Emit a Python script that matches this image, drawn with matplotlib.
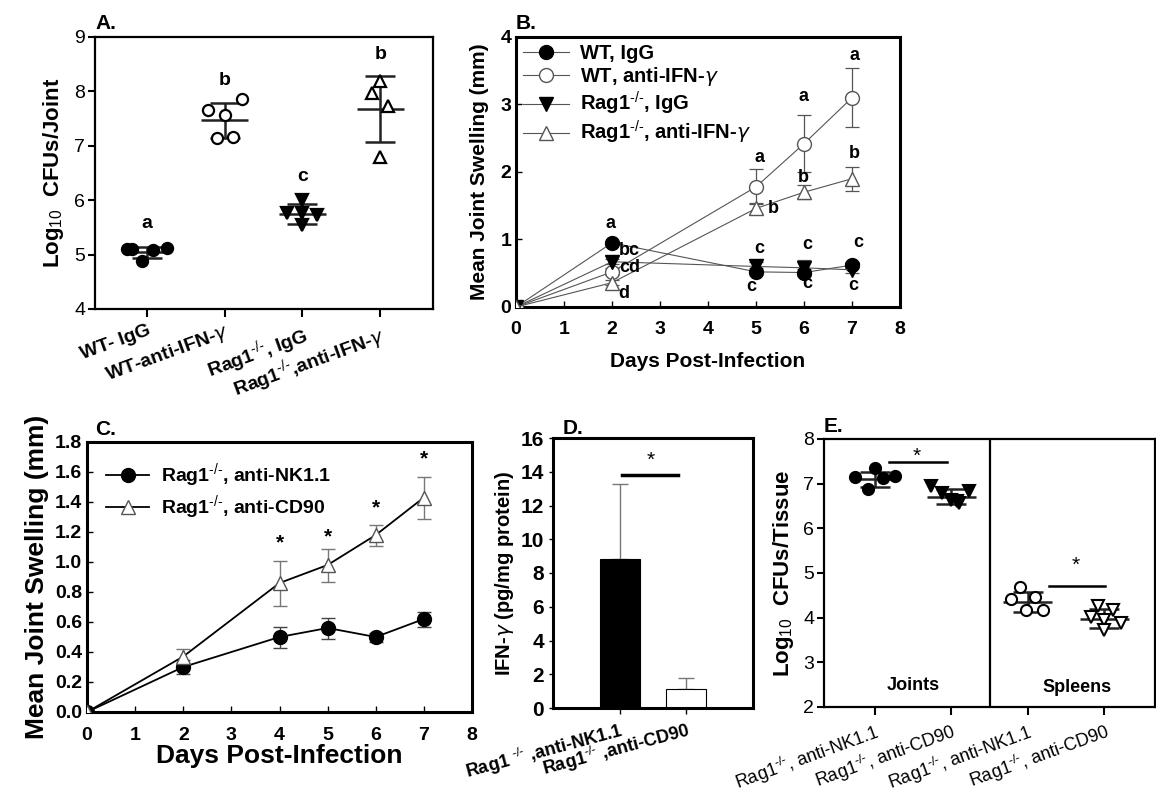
import matplotlib
matplotlib.use("Agg")
import matplotlib.pyplot as plt
import numpy as np

plt.rcParams['font.family'] = ['Liberation Sans', 'DejaVu Sans']
plt.rcParams['mathtext.fontset'] = 'custom'
plt.rcParams['mathtext.rm'] = 'Liberation Sans'
plt.rcParams['mathtext.bf'] = 'Liberation Sans:bold'

KO = "$^{\\text{-/-}}$"

# ---------------- Panel A data ----------------
a_groups = ["WT- IgG", "WT-anti-IFN-$\\gamma$", "Rag1" + KO + ", IgG", "Rag1" + KO + ",anti-IFN-$\\gamma$"]
a_vals = [[5.10, 5.08, 5.12, 4.88, 5.10],
          [7.86, 7.65, 7.56, 7.14, 7.16],
          [6.01, 5.76, 5.73, 5.55, 5.76],
          [8.19, 7.97, 7.73, 6.80]]
a_jit = [[-0.26, 0.08, 0.26, -0.06, -0.2],
         [0.22, -0.22, 0.0, -0.1, 0.1],
         [0.0, -0.2, 0.19, 0.0, 0.0],
         [0.0, -0.1, 0.1, 0.0]]
a_mean = [5.04, 7.47, 5.75, 7.68]
a_sd = [0.10, 0.32, 0.18, 0.61]
a_letters = ["a", "b", "c", "b"]
a_letter_y = [5.57, 8.2, 6.44, 8.67]

# ---------------- Panel B data ----------------
b_days = [0, 2, 5, 6, 7]
b_wt_igg = [0, 0.95, 0.52, 0.51, 0.62]
b_wt_igg_err = [0, 0.03, 0.05, 0.05, 0.04]
b_wt_ifn = [0, 0.52, 1.78, 2.42, 3.10]
b_wt_ifn_err = [0, 0.05, 0.26, 0.42, 0.44]
b_rag_igg = [0, 0.67, 0.60, 0.58, 0.55]
b_rag_igg_err = [0, 0.04, 0.07, 0.11, 0.05]
b_rag_ifn = [0, 0.36, 1.46, 1.70, 1.90]
b_rag_ifn_err = [0, 0.04, 0.08, 0.10, 0.18]
b_labels = ["WT, IgG", "WT, anti-IFN-$\\gamma$", "Rag1" + KO + ", IgG", "Rag1" + KO + ", anti-IFN-$\\gamma$"]
b_letters = [("a", 1.96, 1.24), ("bc", 2.36, 0.83), ("cd", 2.36, 0.59), ("d", 2.24, 0.20),
             ("a", 5.07, 2.22), ("b", 5.36, 1.46), ("c", 5.07, 0.87), ("c", 4.90, 0.31),
             ("a", 5.99, 3.12), ("b", 5.99, 1.92), ("c", 6.06, 0.93), ("c", 6.06, 0.35),
             ("a", 7.05, 3.72), ("b", 7.05, 2.28), ("c", 7.12, 0.96), ("c", 7.02, 0.32)]

# ---------------- Panel C data ----------------
c_days = [0, 2, 4, 5, 6, 7]
c_nk = [0, 0.30, 0.50, 0.56, 0.50, 0.62]
c_nk_err = [0, 0.045, 0.07, 0.07, 0.03, 0.05]
c_cd90 = [0, 0.37, 0.86, 0.98, 1.18, 1.43]
c_cd90_err = [0, 0.05, 0.15, 0.11, 0.07, 0.14]
c_labels = ["Rag1" + KO + ", anti-NK1.1", "Rag1" + KO + ", anti-CD90"]
c_star_days = [4, 5, 6, 7]
c_star_y = [1.13, 1.17, 1.36, 1.69]

# ---------------- Panel D data ----------------
d_labels = ["Rag1 " + KO + " ,anti-NK1.1", "Rag1" + KO + " ,anti-CD90"]
d_vals = [8.85, 1.1]
d_err = [4.45, 0.7]

# ---------------- Panel E data ----------------
e_labels = ["Rag1" + KO + ", anti-NK1.1", "Rag1" + KO + ", anti-CD90",
            "Rag1" + KO + ", anti-NK1.1", "Rag1" + KO + ", anti-CD90"]
e_vals = [[7.15, 7.35, 6.88, 7.12, 7.18],
          [6.95, 6.80, 6.63, 6.56, 6.83, 6.62],
          [4.69, 4.41, 4.47, 4.16, 4.16],
          [4.26, 4.17, 4.02, 3.95, 3.87, 3.72]]
e_jit = [[-0.26, 0.0, -0.09, 0.11, 0.26],
         [-0.26, -0.12, 0.0, 0.1, 0.23, 0.08],
         [-0.1, -0.22, 0.09, -0.02, 0.2],
         [-0.09, 0.11, -0.17, 0.0, 0.22, 0.0]]
e_mean = [7.10, 6.71, 4.35, 3.98]
e_sd = [0.17, 0.16, 0.23, 0.21]

fig = plt.figure(figsize=(11.56, 8.0), dpi=100)

def frame(ax, lw):
    for s in ax.spines.values():
        s.set_linewidth(lw)
        s.set_color('black')

# ================= Panel A =================
axA = fig.add_axes([0.0822, 0.6138, 0.2924, 0.34])
frame(axA, 1.6)
mk = [dict(marker='o', mfc='black', mec='black'),
      dict(marker='o', mfc='white', mec='black'),
      dict(marker='v', mfc='black', mec='black'),
      dict(marker='^', mfc='white', mec='black')]
for i in range(4):
    xs = [i + j for j in a_jit[i]]
    axA.plot(xs, a_vals[i], linestyle='none', ms=8, mew=1.6, **mk[i], zorder=3)
    axA.hlines(a_mean[i], i - 0.3, i + 0.3, color='#222222', lw=1.8, zorder=2)
    axA.errorbar(i, a_mean[i], yerr=a_sd[i], fmt='none', ecolor='#222222',
                 elinewidth=1.8, capsize=11, capthick=1.8, zorder=2)
    axA.text(i, a_letter_y[i], a_letters[i], ha='center', va='center',
             fontsize=14, fontweight='bold')
axA.set_xlim(-0.67, 3.68)
axA.set_ylim(4, 9)
axA.set_yticks([4, 5, 6, 7, 8, 9])
axA.set_xticks(range(4))
axA.set_xticklabels(a_groups, rotation=20, ha='right', rotation_mode='anchor',
                    fontsize=14, fontweight='bold')
axA.tick_params(axis='y', labelsize=14, direction='out', length=5, width=1.5, pad=2)
axA.tick_params(axis='x', direction='out', length=6, width=1.5)
axA.set_ylabel("Log$_{10}$  CFUs/Joint", fontsize=16, fontweight='bold', labelpad=6)
axA.text(0.0, 1.015, "A.", transform=axA.transAxes, fontsize=15, fontweight='bold',
         ha='left', va='bottom')

# ================= Panel B =================
axB = fig.add_axes([0.4464, 0.6163, 0.3322, 0.3375])
frame(axB, 2.2)
gray = '#555555'
series = [(b_wt_igg, b_wt_igg_err, 'o', 'black', 'black'),
          (b_wt_ifn, b_wt_ifn_err, 'o', 'white', gray),
          (b_rag_igg, b_rag_igg_err, 'v', 'black', 'black'),
          (b_rag_ifn, b_rag_ifn_err, '^', 'white', gray)]
for (vals, err, m, fc, ec), lab in zip(series, b_labels):
    axB.errorbar(b_days, vals, yerr=err, fmt='none', ecolor=gray, elinewidth=0.9,
                 capsize=5, capthick=0.9, zorder=2)
    axB.plot(b_days, vals, color=gray, lw=0.8, marker=m, mfc=fc, mec=ec, ms=10,
             mew=1.0, label=lab, zorder=3)
for t, x, y in b_letters:
    axB.text(x, y, t, ha='center', va='center', fontsize=13, fontweight='bold')
axB.set_xlim(0, 8)
axB.set_ylim(0, 4)
axB.set_xticks(range(9))
axB.set_yticks(range(5))
axB.tick_params(labelsize=14, direction='in', length=4, width=1)
for lb in axB.get_xticklabels() + axB.get_yticklabels():
    lb.set_fontweight('bold')
axB.tick_params(axis='x', pad=10)
axB.set_xlabel("Days Post-Infection", fontsize=15, fontweight='bold', labelpad=10)
axB.set_ylabel("Mean Joint Swelling (mm)", fontsize=15, fontweight='bold', labelpad=8)
axB.legend(loc='upper left', frameon=False, prop={'weight': 'bold', 'size': 14.5},
           handlelength=2.3, borderaxespad=0.05, labelspacing=0.1, handletextpad=0.55,
           borderpad=0.3)
axB.text(0.0, 1.015, "B.", transform=axB.transAxes, fontsize=15, fontweight='bold',
         ha='left', va='bottom')

# ================= Panel C =================
axC = fig.add_axes([0.0753, 0.11, 0.333, 0.3375])
frame(axC, 2.2)
axC.errorbar(c_days, c_nk, yerr=c_nk_err, fmt='none', ecolor='#444444', elinewidth=1,
             capsize=5, capthick=1, zorder=2)
axC.errorbar(c_days, c_cd90, yerr=c_cd90_err, fmt='none', ecolor='#777777', elinewidth=1,
             capsize=5, capthick=1, zorder=2)
axC.plot(c_days, c_nk, color='black', lw=1.3, marker='o', mfc='black', mec='black',
         ms=10, label=c_labels[0], zorder=3)
axC.plot(c_days, c_cd90, color='black', lw=1.3, marker='^', mfc='white', mec='#555555',
         ms=10, mew=1.0, label=c_labels[1], zorder=3)
for d, y in zip(c_star_days, c_star_y):
    axC.text(d, y, "*", ha='center', va='center', fontsize=15, fontweight='bold')
axC.set_xlim(0, 8)
axC.set_ylim(0, 1.8)
axC.set_xticks(range(9))
axC.set_yticks(np.arange(0, 1.81, 0.2))
axC.set_yticklabels([f"{v:.1f}" for v in np.arange(0, 1.81, 0.2)])
axC.tick_params(labelsize=14, direction='in', length=4, width=1)
axC.tick_params(axis='x', pad=11)
for lb in axC.get_xticklabels() + axC.get_yticklabels():
    lb.set_fontweight('bold')
axC.set_xlabel("Days Post-Infection", fontsize=19, fontweight='bold', labelpad=0)
axC.set_ylabel("Mean Joint Swelling (mm)", fontsize=19, fontweight='bold', labelpad=4)
axC.legend(loc='upper left', frameon=False, prop={'weight': 'bold', 'size': 14},
           handlelength=2.2, borderaxespad=0.6, labelspacing=0.15, handletextpad=0.6)
axC.text(0.02, 1.01, "C.", transform=axC.transAxes, fontsize=15, fontweight='bold',
         ha='left', va='bottom')

# ================= Panel D =================
axD = fig.add_axes([0.4784, 0.115, 0.173, 0.3375])
frame(axD, 2.2)
xd = np.arange(len(d_vals))
axD.bar(xd, d_vals, width=0.6, color=['black', 'white'], edgecolor='black', linewidth=0.8,
        zorder=2)
axD.errorbar(xd, d_vals, yerr=[[0, 0], d_err], fmt='none', ecolor='#777777',
             elinewidth=1, capsize=6, capthick=1, zorder=1)
axD.plot([0.03, 0.88], [13.8, 13.8], color='black', lw=2.5)
axD.text(0.46, 14.7, "*", ha='center', va='center', fontsize=15)
axD.set_xlim(-1, 2)
axD.set_ylim(0, 16)
axD.set_yticks(range(0, 17, 2))
axD.set_xticks(xd)
axD.set_xticklabels(d_labels, rotation=15, ha='right', rotation_mode='anchor',
                    fontsize=13, fontweight='bold')
axD.tick_params(axis='y', labelsize=15, direction='out', length=3, width=1)
for lb in axD.get_yticklabels():
    lb.set_fontweight('bold')
axD.tick_params(axis='x', direction='out', length=4, width=1)
axD.set_ylabel("IFN-$\\gamma$ (pg/mg protein)", fontsize=14.5, fontweight='bold', labelpad=3)
axD.text(0.05, 1.0, "D.", transform=axD.transAxes, fontsize=15, fontweight='bold',
         ha='left', va='bottom')

# ================= Panel E =================
axE = fig.add_axes([0.7128, 0.1163, 0.2864, 0.335])
frame(axE, 1.6)
mkE = [dict(marker='o', mfc='black', mec='black'),
       dict(marker='v', mfc='black', mec='black'),
       dict(marker='o', mfc='white', mec='black'),
       dict(marker='v', mfc='white', mec='black')]
for i in range(4):
    xs = [i + j for j in e_jit[i]]
    axE.plot(xs, e_vals[i], linestyle='none', ms=8, mew=1.5, **mkE[i], zorder=3)
    axE.hlines(e_mean[i], i - 0.32, i + 0.32, color='#222222', lw=1.8, zorder=2)
    axE.errorbar(i, e_mean[i], yerr=e_sd[i], fmt='none', ecolor='#222222',
                 elinewidth=1.8, capsize=11, capthick=1.8, zorder=2)
axE.axvline(1.5, color='black', lw=1.6)
axE.plot([0.19, 0.95], [7.48, 7.48], color='black', lw=1.8)
axE.text(0.55, 7.6, "*", ha='center', va='center', fontsize=15)
axE.plot([2.28, 3.01], [4.71, 4.71], color='black', lw=1.8)
axE.text(2.63, 5.16, "*", ha='center', va='center', fontsize=15)
axE.text(0.5, 2.47, "Joints", ha='center', va='center', fontsize=13, fontweight='bold')
axE.text(2.64, 2.44, "Spleens", ha='center', va='center', fontsize=13, fontweight='bold')
axE.set_xlim(-0.66, 3.66)
axE.set_ylim(2, 8)
axE.set_yticks(range(2, 9))
axE.set_xticks(range(4))
axE.set_xticklabels(e_labels, rotation=20, ha='right', rotation_mode='anchor', fontsize=13)
axE.tick_params(axis='y', labelsize=14, direction='out', length=5, width=1.5, pad=2)
axE.tick_params(axis='x', direction='out', length=6, width=1.5)
axE.set_ylabel("Log$_{10}$  CFUs/Tissue", fontsize=16, fontweight='bold', labelpad=5)
axE.text(0.0, 1.01, "E.", transform=axE.transAxes, fontsize=15, fontweight='bold',
         ha='left', va='bottom')

fig.savefig("out.png", dpi=100)
